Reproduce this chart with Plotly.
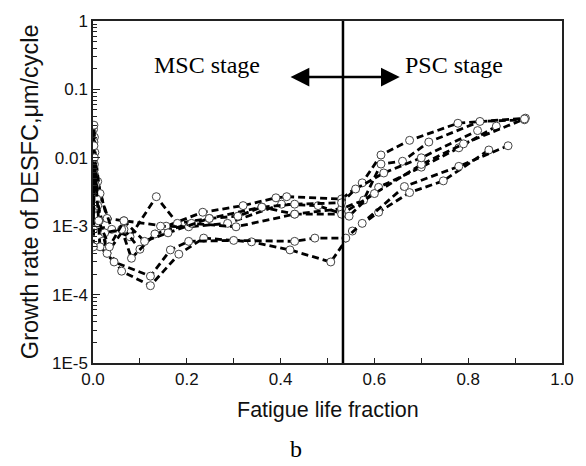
import plotly.graph_objects as go

# ---- data (fatigue life fraction, growth rate um/cycle) ----
s1_x = [0.001, 0.003, 0.010, 0.030, 0.066, 0.156, 0.234, 0.320, 0.390, 0.413, 0.530, 0.574, 0.614, 0.675, 0.778, 0.922]
s1_y = [0.026, 0.020, 0.0045, 0.0013, 0.0012, 0.0010, 0.0016, 0.0020, 0.0026, 0.0027, 0.0025, 0.0043, 0.011, 0.018, 0.032, 0.038]

s2_x = [0.002, 0.004, 0.015, 0.040, 0.079, 0.135, 0.180, 0.248, 0.360, 0.430, 0.530, 0.577, 0.614, 0.660, 0.716, 0.825, 0.920]
s2_y = [0.017, 0.012, 0.0030, 0.0009, 0.0007, 0.0027, 0.0011, 0.0013, 0.0019, 0.0015, 0.0018, 0.0024, 0.0081, 0.0089, 0.017, 0.034, 0.036]

s3_x = [0.002, 0.005, 0.020, 0.061, 0.1225, 0.183, 0.236, 0.338, 0.420, 0.507, 0.553, 0.609, 0.675, 0.747, 0.844]
s3_y = [0.0060, 0.004, 0.0006, 0.00022, 0.000135, 0.00039, 0.00067, 0.00059, 0.00045, 0.00030, 0.00085, 0.0016, 0.0031, 0.0046, 0.013]

s4_x = [0.001, 0.003, 0.015, 0.045, 0.1225, 0.165, 0.204, 0.300, 0.430, 0.473, 0.539, 0.574, 0.664, 0.780, 0.885]
s4_y = [0.0035, 0.008, 0.0005, 0.00030, 0.000186, 0.00045, 0.00060, 0.00062, 0.00060, 0.00067, 0.00067, 0.0011, 0.0038, 0.0075, 0.015]

s5_x = [0.001, 0.002, 0.010, 0.030, 0.066, 0.100, 0.144, 0.204, 0.287, 0.402, 0.480, 0.546, 0.609, 0.700, 0.780, 0.860]
s5_y = [0.0018, 0.030, 0.0020, 0.0004, 0.0009, 0.00046, 0.0010, 0.00098, 0.0011, 0.0021, 0.0020, 0.0014, 0.0037, 0.0073, 0.014, 0.029]

s6_x = [0.001, 0.002, 0.008, 0.025, 0.061, 0.082, 0.132, 0.210, 0.305, 0.430, 0.530, 0.600, 0.700, 0.790, 0.920]
s6_y = [0.0009, 0.015, 0.0025, 0.0008, 0.0009, 0.00034, 0.00077, 0.0011, 0.00098, 0.0015, 0.0015, 0.0030, 0.0080, 0.016, 0.037]

s7_x = [0.001, 0.003, 0.012, 0.035, 0.066, 0.110, 0.160, 0.248, 0.309, 0.360, 0.430, 0.530, 0.560, 0.620, 0.700, 0.820]
s7_y = [0.0005, 0.010, 0.0012, 0.0005, 0.0012, 0.0006, 0.0008, 0.0013, 0.0014, 0.0019, 0.0021, 0.0022, 0.0035, 0.0060, 0.0100, 0.025]

series = [(s1_x, s1_y), (s2_x, s2_y), (s3_x, s3_y), (s4_x, s4_y),
          (s5_x, s5_y), (s6_x, s6_y), (s7_x, s7_y)]

boundary_x = 0.533
y_tick_vals = [1e-5, 1e-4, 1e-3, 1e-2, 1e-1, 1]
y_tick_text = ["1E-5", "1E-4", "1E-3", "0.01", "0.1", "1"]
x_tick_vals = [0.0, 0.2, 0.4, 0.6, 0.8, 1.0]
x_tick_text = ["0.0", "0.2", "0.4", "0.6", "0.8", "1.0"]

minor_y = [m * 10 ** e for e in range(-5, 0) for m in range(2, 10)]

SANS = "Liberation Sans, Arial, sans-serif"
SERIF = "Liberation Serif, Times New Roman, serif"

fig = go.Figure()
for sx, sy in series:
    fig.add_trace(go.Scatter(
        x=sx, y=sy, mode="lines+markers",
        line=dict(color="black", width=2.8, dash="7px,4px"),
        marker=dict(symbol="circle", size=8, color="white",
                    line=dict(color="#444444", width=1)),
        showlegend=False))

fig.add_trace(go.Scatter(x=[boundary_x, boundary_x], y=[1e-5, 1], mode="lines",
                         line=dict(color="black", width=2.5), showlegend=False))

fig.update_layout(
    width=586, height=466,
    margin=dict(l=93, r=21, t=12, b=103),
    paper_bgcolor="white", plot_bgcolor="white",
    font=dict(family=SANS, size=17, color="#111111"),
    xaxis=dict(range=[0, 1], tickvals=x_tick_vals, ticktext=x_tick_text,
               ticks="inside", ticklen=5, tickwidth=1, tickcolor="#222222",
               minor=dict(dtick=0.1, ticks="inside", ticklen=5, tickcolor="#222222"),
               showline=True, linecolor="#222222", linewidth=1.5, mirror=True,
               showgrid=False, zeroline=False),
    yaxis=dict(type="log", range=[-5, 0], tickvals=y_tick_vals, ticktext=y_tick_text,
               ticks="inside", ticklen=7, tickwidth=1, tickcolor="#222222",
               minor=dict(tickvals=minor_y, ticks="inside", ticklen=4, tickcolor="#222222"),
               showline=True, linecolor="#222222", linewidth=1.5, mirror=True,
               showgrid=False, zeroline=False),
)

fig.add_annotation(text="Growth rate of DESFC,μm/cycle", xref="paper", yref="paper",
                   x=-0.134, y=0.5, xanchor="center", yanchor="middle",
                   textangle=-90, showarrow=False,
                   font=dict(size=23.5, family=SANS, color="#111111"))
fig.add_annotation(text="Fatigue life fraction", xref="paper", yref="paper",
                   x=0.5, y=-0.138, xanchor="center", yanchor="middle", showarrow=False,
                   font=dict(size=21.5, family=SANS, color="#111111"))
fig.add_annotation(text="b", xref="paper", yref="paper", x=0.432, y=-0.25,
                   xanchor="center", yanchor="middle", showarrow=False,
                   font=dict(size=24, family=SERIF, color="black"))
fig.add_annotation(text="MSC stage", xref="x", yref="y", x=0.244, y=-0.64,
                   xanchor="center", yanchor="middle", showarrow=False,
                   font=dict(size=24, family=SERIF, color="black"))
fig.add_annotation(text="PSC stage", xref="x", yref="y", x=0.769, y=-0.64,
                   xanchor="center", yanchor="middle", showarrow=False,
                   font=dict(size=24, family=SERIF, color="black"))
fig.add_annotation(x=0.654, y=-0.82, ax=0.418, ay=-0.82, xref="x", yref="y",
                   axref="x", ayref="y", text="", showarrow=True,
                   arrowhead=2, startarrowhead=2, arrowside="end+start",
                   arrowsize=1.5, startarrowsize=1.5, arrowwidth=2.5, arrowcolor="black")

fig.write_html("out.html")
